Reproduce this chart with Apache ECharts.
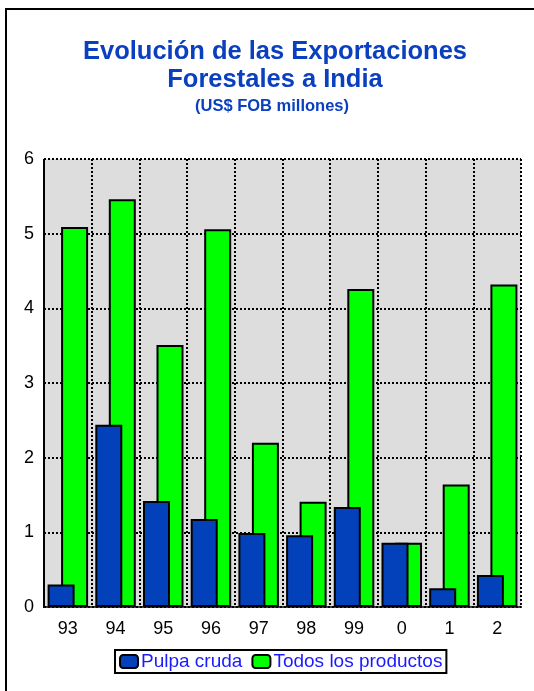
<!DOCTYPE html>
<html>
<head>
<meta charset="utf-8">
<script src="https://cdn.jsdelivr.net/npm/echarts@6/dist/echarts.min.js"></script>
<style>
html,body{margin:0;padding:0;background:#fff;}
#c{width:534px;height:691px;}
</style>
</head>
<body>
<div id="c"></div>
<script>
var categories = ['93','94','95','96','97','98','99','0','1','2'];
var pulpaCruda = [0.30, 2.44, 1.42, 1.18, 0.99, 0.96, 1.34, 0.86, 0.25, 0.43];
var todosProductos = [5.09, 5.46, 3.51, 5.06, 2.20, 1.41, 4.26, 0.86, 1.64, 4.32];
var yTicks = [0, 1, 2, 3, 4, 5, 6];

var chart = echarts.init(document.getElementById('c'), null, {renderer: 'canvas'});
var font = '"Liberation Sans", Arial, sans-serif';
var titleColor = '#0a3fbf';
chart.setOption({
  animation: false,
  backgroundColor: '#ffffff',
  graphic: [
    {type: 'rect', shape: {x: 6, y: 9, width: 700, height: 900}, style: {fill: 'none', stroke: '#000', lineWidth: 2}, z: 100}
  ],
  title: [
    {text: 'Evolución de las Exportaciones\nForestales a India', left: 270, textAlign: 'center', top: 33,
     textStyle: {fontFamily: font, fontSize: 25.5, fontWeight: 'bold', color: titleColor, lineHeight: 28}},
    {text: '(US$ FOB millones)', left: 267, textAlign: 'center', top: 93,
     textStyle: {fontFamily: font, fontSize: 16.5, fontWeight: 'bold', color: titleColor}}
  ],
  legend: {
    bottom: 18, left: 115,
    itemWidth: 18, itemHeight: 13, itemGap: 9,
    padding: [2, 4, 2, 4],
    borderColor: '#000', borderWidth: 2,
    icon: 'roundRect',
    textStyle: {fontFamily: font, fontSize: 19, color: '#1a1aff', padding: [0, 0, 0, -2]},
    data: ['Pulpa cruda', 'Todos los productos']
  },
  grid: {left: 44, right: 13, top: 159, bottom: 84, show: true, backgroundColor: '#dddddd', borderWidth: 0},
  xAxis: {
    type: 'category', data: categories,
    axisLine: {show: true, lineStyle: {color: '#000', type: [2, 2], width: 2}},
    axisTick: {show: false},
    axisLabel: {fontFamily: font, fontSize: 18, color: '#000', margin: 13},
    splitLine: {show: true, lineStyle: {color: '#000', type: [2, 2], width: 2}}
  },
  yAxis: {
    type: 'value', min: 0, max: 6, interval: 1,
    axisLine: {show: true, lineStyle: {color: '#000', type: [2, 2], width: 2}},
    axisTick: {show: false},
    axisLabel: {fontFamily: font, fontSize: 18, color: '#000', margin: 10,
      formatter: function (v) { return yTicks.indexOf(v) >= 0 ? String(v) : ''; }},
    splitLine: {show: true, lineStyle: {color: '#000', type: [2, 2], width: 2}}
  },
  series: [
    {name: 'Pulpa cruda', type: 'bar', data: pulpaCruda, barWidth: '56.6%', barGap: '-50%', z: 4,
     itemStyle: {color: '#0341ba', borderColor: '#000', borderWidth: 2}},
    {name: 'Todos los productos', type: 'bar', data: todosProductos, barWidth: '56.6%', barGap: '-50%', z: 3,
     itemStyle: {color: '#00ff00', borderColor: '#000', borderWidth: 2}}
  ]
});
</script>
</body>
</html>
